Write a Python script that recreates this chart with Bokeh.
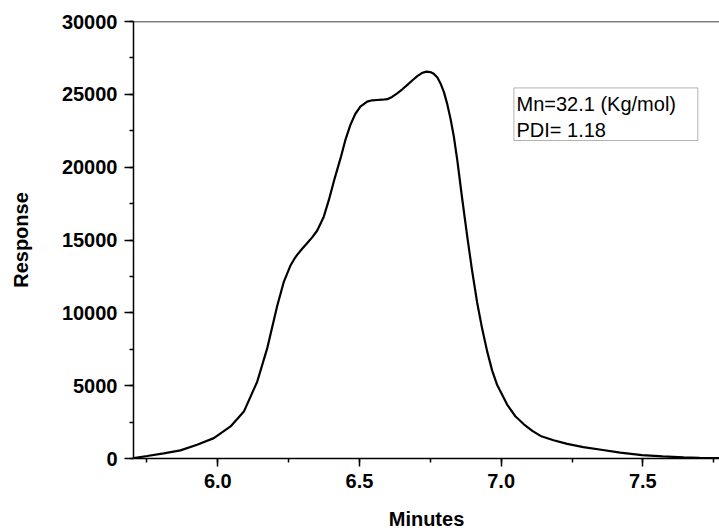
from bokeh.plotting import figure
from bokeh.models import (Range1d, SingleIntervalTicker, PrintfTickFormatter, Span,
                          BoxAnnotation, Label)
from bokeh.embed import file_html
from bokeh.resources import INLINE

# Data (Minutes vs Response)
minutes = [5.703, 5.751, 5.809, 5.868, 5.927, 5.986, 6.045, 6.092, 6.139, 6.174,
           6.210, 6.233, 6.257, 6.270, 6.280, 6.297, 6.315, 6.333, 6.351, 6.374,
           6.392, 6.412, 6.433, 6.450, 6.468, 6.485, 6.503, 6.527, 6.545, 6.562,
           6.580, 6.598, 6.615, 6.633, 6.650, 6.668, 6.686, 6.704, 6.720, 6.736,
           6.750, 6.762, 6.775, 6.786, 6.798, 6.809, 6.821, 6.833, 6.845, 6.862,
           6.880, 6.897, 6.915, 6.933, 6.951, 6.968, 6.986, 7.021, 7.050, 7.080,
           7.110, 7.139, 7.185, 7.233, 7.290, 7.353, 7.420, 7.497, 7.570, 7.644,
           7.700, 7.750, 7.770]
response = [30, 170, 355, 560, 940, 1400, 2200, 3220, 5270, 7540,
            10500, 12130, 13270, 13700, 13980, 14380, 14780, 15180, 15650, 16600,
            17750, 19200, 20600, 21850, 22900, 23650, 24150, 24500, 24590, 24610,
            24630, 24670, 24820, 25070, 25330, 25630, 25950, 26250, 26460, 26560,
            26530, 26420, 26150, 25750, 25150, 24380, 23350, 22100, 20500, 17900,
            15280, 12950, 10730, 8900, 7320, 6050, 5040, 3700, 2900, 2350,
            1900, 1550, 1250, 1000, 780, 600, 400, 230, 140, 80,
            50, 30, 20]

annot_lines = ["Mn=32.1 (Kg/mol)", "PDI= 1.18"]
x_label = "Minutes"
y_label = "Response"

FONT = "Liberation Sans"

p = figure(width=719, height=532, output_backend="svg", toolbar_location=None,
           x_range=Range1d(5.7025, 7.7705), y_range=Range1d(0, 30000),
           min_border_left=133, min_border_right=0, min_border_top=21,
           min_border_bottom=72)
p.outline_line_color = None
p.xgrid.visible = False
p.ygrid.visible = False
p.background_fill_color = "white"
p.border_fill_color = "white"

p.line(minutes, response, line_color="black", line_width=2.2)

# axes
p.xaxis.ticker = SingleIntervalTicker(interval=0.5, num_minor_ticks=2)
p.yaxis.ticker = SingleIntervalTicker(interval=5000, num_minor_ticks=2)
p.xaxis.formatter = PrintfTickFormatter(format="%.1f")
p.yaxis.formatter = PrintfTickFormatter(format="%d")

for ax in (p.xaxis[0], p.yaxis[0]):
    ax.axis_line_width = 1.5
    ax.axis_line_color = "black"
    ax.major_tick_line_width = 1.5
    ax.minor_tick_line_width = 1.5
    ax.major_tick_line_color = "black"
    ax.minor_tick_line_color = "black"
    ax.major_tick_in = 0
    ax.minor_tick_in = 0
    ax.minor_tick_out = 4
    ax.major_label_text_font = FONT
    ax.major_label_text_font_style = "bold"
    ax.major_label_text_font_size = "20px"
    ax.major_label_text_color = "black"
    ax.axis_label_text_font = FONT
    ax.axis_label_text_font_style = "bold"
    ax.axis_label_text_font_size = "20px"
    ax.axis_label_text_color = "black"

p.xaxis.major_tick_out = 8
p.yaxis.major_tick_out = 9
p.xaxis.major_label_standoff = 7
p.yaxis.major_label_standoff = 7
p.xaxis.axis_label = x_label
p.yaxis.axis_label = y_label
p.xaxis.axis_label_standoff = 17
p.yaxis.axis_label_standoff = 27

# top border line
p.add_layout(Span(location=30000, dimension="width", line_color="black", line_width=1.5))

# annotation box
p.add_layout(BoxAnnotation(left=7.045, right=7.694, top=25440, bottom=21830,
                           fill_color="white", fill_alpha=1.0,
                           line_color="black", line_width=1))
p.add_layout(Label(x=7.054, y=24335, text=annot_lines[0], text_font=FONT,
                   text_font_size="20px", text_color="black", text_baseline="alphabetic"))
p.add_layout(Label(x=7.054, y=22560, text=annot_lines[1], text_font=FONT,
                   text_font_size="20px", text_color="black", text_baseline="alphabetic"))

open("out.html", "w").write(file_html(p, INLINE))
